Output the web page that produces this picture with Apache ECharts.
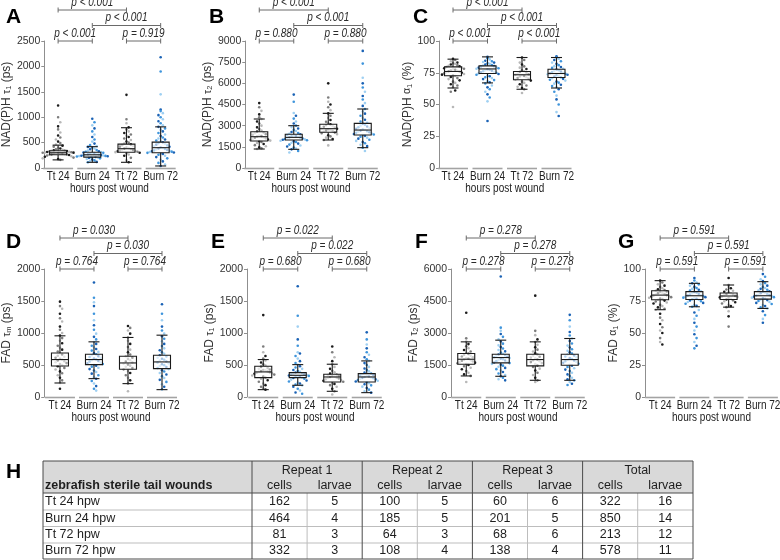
<!DOCTYPE html>
<html><head><meta charset="utf-8">
<script src="https://cdn.jsdelivr.net/npm/echarts@6/dist/echarts.min.js"></script>
<style>html,body{margin:0;padding:0;background:#fff}#c{width:780px;height:560px}</style>
</head><body><div id="c"></div><script>
// ---------------- DATA ----------------
const categories = ['Tt 24', 'Burn 24', 'Tt 72', 'Burn 72'];
const xAxisName = 'hours post wound';

// Panel A: NAD(P)H tau1 (ps)
const a_tt24 = [1230,1000,900,820,760,700,640,600,560,520,490,460,440,420,400,385,370,360,350,345,338,332,326,320,315,310,306,302,300,298,295,292,288,284,280,276,272,268,262,255,245,232,220,205,190,175,160];
const a_burn24 = [970,900,840,780,720,660,610,560,520,480,450,430,415,400,385,370,355,342,330,320,312,305,298,292,286,280,274,268,263,258,254,250,246,242,238,234,230,226,222,218,214,208,200,190,178,165,150,135,120,112];
const a_tt72 = [1440,960,880,800,760,720,690,660,640,610,580,550,520,500,480,465,450,435,420,405,392,382,372,362,352,344,336,328,320,312,300,285,265,240,200,150,112];
const a_burn72 = [2180,1900,1450,1150,1120,1080,1040,1000,960,920,880,840,810,780,750,720,690,660,630,600,580,560,540,520,505,490,475,460,445,430,418,406,395,384,374,364,355,346,338,330,322,314,306,298,288,275,260,240,215,190,160,130,100,70,40];
const boxA = [[160,260,300,340,450],[112,215,260,310,420],[112,310,380,470,793],[40,300,400,510,810]];
const pA = ['p < 0.001','p = 0.919','p < 0.001','p < 0.001'];

// Panel B: NAD(P)H tau2 (ps)
const b_tt24 = [4600,4300,4050,3800,3600,3470,3300,3150,3000,2880,2760,2650,2580,2520,2460,2400,2350,2300,2260,2220,2180,2140,2100,2060,2020,1980,1940,1900,1850,1780,1700,1620,1540,1460,1400,1350];
const b_burn24 = [5200,4700,3900,3700,3500,3300,3150,3000,2900,2800,2700,2620,2550,2480,2420,2380,2340,2300,2270,2240,2210,2180,2150,2120,2090,2060,2030,2000,1970,1930,1890,1840,1790,1730,1660,1590,1520,1450,1380,1320,1200,1100];
const b_tt72 = [6000,5000,4700,4500,4300,4100,3870,3700,3550,3400,3280,3180,3100,3040,2980,2920,2870,2820,2780,2740,2700,2660,2620,2580,2530,2470,2400,2320,2240,2150,2060,1980,1600];
const b_burn72 = [8300,7400,6400,6000,5700,5400,5100,4850,4600,4400,4180,4000,3850,3700,3550,3420,3300,3200,3130,3060,3000,2940,2880,2830,2780,2730,2690,2650,2610,2570,2530,2490,2450,2410,2370,2330,2280,2220,2150,2080,2000,1920,1840,1750,1650,1550,1440,1200];
const boxB = [[1346,1913,2218,2573,3472],[1323,1984,2170,2388,2998],[1984,2530,2786,3097,3874],[1440,2338,2690,3165,4181]];
const pB = ['p = 0.880','p = 0.880','p < 0.001','p < 0.001'];

// Panel C: NAD(P)H alpha1 (%)
const c_tt24 = [86,85,84,83,82.5,82,81.5,81,80.5,80,79.5,79,78.6,78.2,77.8,77.4,77,76.6,76.2,75.8,75.4,75,74.5,74,73.5,73,72.4,71.6,70.8,70,69,68,67,66,65,63.5,61,60,48];
const c_burn24 = [87.5,86.5,85.5,84.5,84,83.5,83,82.5,82,81.5,81,80.6,80.2,79.8,79.4,79,78.6,78.2,77.8,77.4,77,76.6,76.2,75.8,75.4,75,74.5,74,73.4,72.8,72.2,71.5,70.8,70,69.2,68.4,67.5,66.5,65,63.5,62,60,58,55.5,52.5,37];
const c_tt72 = [87,85,83,81.5,80,79,78,77,76.2,75.6,75,74.4,73.8,73.4,73,72.5,72,71.4,70.8,70.2,69.6,68.8,68,67,66,65,64,63,62,59];
const c_burn72 = [88,87,86,85,84,83,82,81,80.2,79.5,78.8,78.2,77.6,77,76.5,76,75.5,75,74.6,74.2,73.8,73.4,73,72.5,72,71.4,70.8,70.2,69.5,68.8,68,67.2,66.4,65.5,64.5,63.5,62,60,57,54,50,44,41];
const boxC = [[63,72.6,76,79.6,85.7],[67,74.4,78,80.4,87.5],[62,69.5,73.4,76,87],[63,71.3,74.4,77.8,87]];
const pC = ['p < 0.001','p < 0.001','p < 0.001','p < 0.001'];

// Panel D: FAD tau m (ps)
const d_tt24 = [1490,1420,1380,1300,1230,1180,1100,1050,1000,960,920,880,840,800,770,740,710,685,665,645,628,612,598,585,572,558,544,530,514,498,480,455,430,400,370,340,300,260,220,130];
const d_burn24 = [1790,1550,1480,1420,1300,1200,1120,1050,990,940,900,860,830,800,775,750,725,705,685,668,652,638,625,612,600,588,576,564,552,540,528,516,504,490,474,456,436,414,390,365,340,310,285,250,210,170,130,100];
const d_tt72 = [1110,1080,1040,990,930,880,830,780,740,700,665,636,615,595,575,555,538,522,506,490,472,452,432,405,375,340,300,260,210,90];
const d_burn72 = [1450,1300,1200,1100,1040,990,950,910,870,830,795,760,730,700,675,652,632,614,598,583,568,554,540,526,512,498,484,468,452,436,418,398,376,352,326,298,268,236,200,160,120];
const boxD = [[219,484,585,688,956],[287,506,585,667,862],[209,433,532,636,930],[115,444,548,653,966]];
const pD = ['p = 0.764','p = 0.764','p = 0.030','p = 0.030'];

// Panel E: FAD tau1 (ps)
const e_tt24 = [1280,790,700,640,600,570,540,510,490,470,455,440,430,420,412,405,398,392,386,380,372,362,350,336,320,305,285,262,238,212,185,160,135,115];
const e_burn24 = [1730,1270,1100,900,800,700,680,640,600,560,530,505,480,460,440,422,405,392,381,372,364,356,349,342,336,330,324,318,312,305,296,285,272,258,242,226,210,195,182,160,130,100,70,50];
const e_tt72 = [790,700,620,560,512,470,440,410,385,365,352,342,333,325,318,312,305,297,288,278,266,252,238,222,205,185,160,130,90,40];
const e_burn72 = [1010,900,820,760,700,660,620,590,564,530,500,470,445,420,400,382,366,355,345,336,328,320,313,306,299,292,284,275,265,254,242,230,216,200,182,162,140,115,90,68];
const boxE = [[115,303,392,480,585],[183,303,339,381,506],[89,235,313,355,512],[68,235,313,366,564]];
const pE = ['p = 0.680','p = 0.680','p = 0.022','p = 0.022'];

// Panel F: FAD tau2 (ps)
const f_tt24 = [3950,2750,2600,2480,2380,2290,2200,2130,2070,2020,1980,1940,1900,1860,1820,1790,1760,1730,1700,1670,1640,1610,1580,1545,1500,1440,1370,1300,1220,1140,1060,990,700];
const f_burn24 = [5650,3250,3100,2950,2820,2700,2600,2500,2420,2340,2270,2200,2140,2080,2030,1990,1955,1920,1890,1860,1830,1800,1770,1740,1710,1680,1650,1620,1590,1555,1515,1470,1420,1365,1305,1240,1170,1100,1030,970,900,830,780];
const f_tt72 = [4750,3100,2900,2700,2580,2450,2330,2220,2130,2050,1990,1940,1890,1845,1800,1760,1720,1680,1635,1590,1540,1480,1410,1330,1240,1140,1030,900,780,700];
const f_burn72 = [3850,3600,3300,3050,2880,2740,2620,2510,2410,2320,2240,2170,2100,2040,1990,1945,1900,1860,1820,1780,1745,1710,1675,1640,1600,1560,1515,1465,1410,1350,1285,1215,1140,1060,980,900,830,780,700,620,560];
const boxF = [[987,1535,1770,2037,2585],[971,1598,1849,2006,2664],[783,1457,1755,2006,2585],[783,1488,1755,2006,2742]];
const pF = ['p = 0.278','p = 0.278','p = 0.278','p = 0.278'];

// Panel G: FAD alpha1 (%)
const g_tt24 = [91,89.5,88,87,86,85,84.2,83.5,83,82.5,82,81.5,81,80.5,80,79.6,79.2,78.8,78.4,78,77.5,77,76.5,76,75.3,74.6,73.8,73,72,71,70,69,68.2,65,62,60,57,54.5,52,50,46,43,41];
const g_burn24 = [93,91,89.5,88.8,88,87,86,85.2,84.5,83.8,83.2,82.6,82,81.5,81,80.5,80,79.6,79.2,78.8,78.4,78,77.6,77.2,76.8,76.4,76,75.4,74.8,74.2,73.5,72.8,72,71.2,70.5,68,66,63.5,61,58,55,52,49,46,43,40,38];
const g_tt72 = [93,87.5,86,85,84,83,82.2,81.6,81,80.5,80,79.5,79,78.6,78.2,77.8,77.3,76.8,76.2,75.5,74.8,74,73,72,71,70.2,67,63,55];
const g_burn72 = [96,94,92,90.5,89,88,87,86,85.2,84.5,83.8,83.2,82.6,82,81.5,81,80.5,80,79.6,79.2,78.8,78.4,78,77.6,77.2,76.8,76.3,75.7,75,74.3,73.5,72.7,71.8,71,70,69.2,67,64,61,58];
const boxG = [[68.2,76,79.6,83,90.9],[70.5,76.2,79.1,82.3,88.8],[70.2,76.2,78.9,81.2,87.5],[69.2,76.5,79.1,82.3,90.1]];
const pG = ['p = 0.591','p = 0.591','p = 0.591','p = 0.591'];

// Table H
const tableTitle = 'zebrafish sterile tail wounds';
const tableGroups = ['Repeat 1','Repeat 2','Repeat 3','Total'];
const tableSubHeads = ['cells','larvae'];
const tableRowLabels = ['Tt 24 hpw','Burn 24 hpw','Tt 72 hpw','Burn 72 hpw'];
const rep1Cells = [162,464,81,332];
const rep1Larvae = [5,4,3,3];
const rep2Cells = [100,185,64,108];
const rep2Larvae = [5,5,3,4];
const rep3Cells = [60,201,68,138];
const rep3Larvae = [6,5,6,4];
const totalCells = [322,850,213,578];
const totalLarvae = [16,14,12,11];

// ---------------- STYLE / LAYOUT ----------------
const SANS = "'Liberation Sans',Arial,Helvetica,sans-serif";
const NARROW_SCALE = 0.8;
const TT_COLORS = ['#1c1c1c', '#7d7d7d', '#b8b8b8'];
const BURN_COLORS = ['#1a62b5', '#3f95dc', '#9fd0f2'];
const BOX_W = 17, CAP_W = 11, SEG_W = 30;
const BIN_PX = 6, DOT_STEP = 2.2, DOT_R = 1.3, ROW_MAX = 15;

function yName(prefix, greek, sub, unit) {
  return prefix + ' {g|' + greek + '}{s|' + sub + '} ' + unit;
}

const panels = [
  {letter:'A', lx:1, ly:2, left:39.75, top:41, height:127, max:2500, interval:500, gap:28, offset:-3.25,
   name: yName('NAD(P)H','τ','1','(ps)'), groups:[a_tt24,a_burn24,a_tt72,a_burn72], box:boxA, p:pA},
  {letter:'B', lx:204, ly:2, left:242, top:41, height:127, max:9000, interval:1500, gap:28, offset:-3.25,
   name: yName('NAD(P)H','τ','2','(ps)'), groups:[b_tt24,b_burn24,b_tt72,b_burn72], box:boxB, p:pB},
  {letter:'C', lx:408, ly:2, left:435.75, top:41, height:127, max:100, interval:25, gap:19.5, offset:-3.25,
   name: yName('NAD(P)H','α','1','(%)'), groups:[c_tt24,c_burn24,c_tt72,c_burn72], box:boxC, p:pC},
  {letter:'D', lx:1, ly:227, left:41, top:269, height:128, max:2000, interval:500, gap:27, offset:-1.3,
   name: yName('FAD','τ','m','(ps)'), groups:[d_tt24,d_burn24,d_tt72,d_burn72], box:boxD, p:pD},
  {letter:'E', lx:206, ly:227, left:246, top:269, height:128, max:2000, interval:500, gap:27.5, offset:-1,
   name: yName('FAD','τ','1','(ps)'), groups:[e_tt24,e_burn24,e_tt72,e_burn72], box:boxE, p:pE},
  {letter:'F', lx:410, ly:227, left:449, top:269, height:128, max:6000, interval:1500, gap:27.5, offset:-2,
   name: yName('FAD','τ','2','(ps)'), groups:[f_tt24,f_burn24,f_tt72,f_burn72], box:boxF, p:pF},
  {letter:'G', lx:613, ly:227, left:643, top:269, height:128, max:100, interval:25, gap:18.5, offset:-2,
   name: yName('FAD','α','1','(%)'), groups:[g_tt24,g_burn24,g_tt72,g_burn72], box:boxG, p:pG}
];
const PANEL_W = 138;
const BRACKET_PAIRS = [[0,1,0],[2,3,0],[1,3,1],[0,2,2]]; // [from, to, row]
const BRACKET_ROW_PX = 15.5;

// beeswarm layout of values (horizontal spread computed from value density)
function swarm(values, cat, max, h) {
  const unit = max * BIN_PX / h;
  const counts = {};
  return values.map((v, i) => {
    const b = Math.round(v / unit);
    const k = counts[b] = (counts[b] || 0) + 1;
    const k0 = (k - 1) % ROW_MAX;
    const wrap = Math.floor((k - 1) / ROW_MAX) % 2 ? DOT_STEP / 2 : 0;
    const off = (k0 === 0 ? 0 : (k0 % 2 ? 1 : -1) * Math.ceil(k0 / 2) * DOT_STEP) + wrap;
    return [cat, v, off, i % 3];
  });
}

function renderPoint(params, api) {
  const cat = api.value(0);
  const c = api.coord([cat, api.value(1)]);
  const pal = cat % 2 === 0 ? TT_COLORS : BURN_COLORS;
  return {type:'circle', shape:{cx:c[0] + api.value(2), cy:c[1], r:DOT_R}, style:{fill:pal[api.value(3)]}};
}

function renderBox(params, api) {
  const x = api.value(0);
  const pMin = api.coord([x, api.value(1)]), pQ1 = api.coord([x, api.value(2)]),
        pMed = api.coord([x, api.value(3)]), pQ3 = api.coord([x, api.value(4)]),
        pMax = api.coord([x, api.value(5)]);
  const cx = pMed[0], hw = BOX_W / 2, cw = CAP_W / 2;
  const ls = {stroke:'#1a1a1a', lineWidth:1.1, fill:null};
  return {type:'group', children:[
    {type:'line', shape:{x1:cx, y1:pMax[1], x2:cx, y2:pQ3[1]}, style:ls},
    {type:'line', shape:{x1:cx, y1:pQ1[1], x2:cx, y2:pMin[1]}, style:ls},
    {type:'line', shape:{x1:cx - cw, y1:pMax[1], x2:cx + cw, y2:pMax[1]}, style:ls},
    {type:'line', shape:{x1:cx - cw, y1:pMin[1], x2:cx + cw, y2:pMin[1]}, style:ls},
    {type:'rect', shape:{x:cx - hw, y:pQ3[1], width:2 * hw, height:pQ1[1] - pQ3[1]},
     style:{fill:'rgba(255,255,255,0.6)', stroke:'#1a1a1a', lineWidth:1.1}},
    {type:'line', shape:{x1:cx - hw, y1:pMed[1], x2:cx + hw, y2:pMed[1]}, style:ls}
  ]};
}

function narrowText(t, x, y, size, extra) {
  return Object.assign({type:'text', x:x, y:y, scaleX:NARROW_SCALE,
    style:Object.assign({text:t, fill:'#222', fontSize:size, fontFamily:SANS, align:'center', verticalAlign:'middle'}, extra || {})});
}

// category axis: short gray segments + narrow labels + axis name
function renderSeg(params, api) {
  const p = api.coord([api.value(0), 0]);
  const ch = [
    {type:'line', shape:{x1:p[0] - SEG_W / 2, y1:p[1] + 0.5, x2:p[0] + SEG_W / 2, y2:p[1] + 0.5},
     style:{stroke:'#a3a3a3', lineWidth:1.6}},
    narrowText(categories[params.dataIndex], p[0], p[1] + 8.3, 12.5)
  ];
  if (params.dataIndex === 0) {
    const cs = params.coordSys;
    ch.push(narrowText(xAxisName, cs.x + cs.width / 2, p[1] + 20.3, 12.5));
  }
  return {type:'group', children:ch};
}

function makeBracketRenderer(pTexts) {
  return function (params, api) {
    const a = api.coord([api.value(0), 0]), b = api.coord([api.value(1), 0]);
    const y = params.coordSys.y - api.value(2) * BRACKET_ROW_PX;
    const st = {stroke:'#6a6a6a', lineWidth:1};
    return {type:'group', children:[
      {type:'line', shape:{x1:a[0], y1:y, x2:b[0], y2:y}, style:st},
      {type:'line', shape:{x1:a[0], y1:y - 2.5, x2:a[0], y2:y + 2.5}, style:st},
      {type:'line', shape:{x1:b[0], y1:y - 2.5, x2:b[0], y2:y + 2.5}, style:st},
      narrowText(pTexts[params.dataIndex], (a[0] + b[0]) / 2, y - 1.2, 12.5,
        {fontStyle:'italic', verticalAlign:'bottom', fill:'#2a2a2a'})
    ]};
  };
}

const grids = [], xAxes = [], yAxes = [], series = [], titles = [];
panels.forEach((pn, gi) => {
  grids.push({left:pn.left, top:pn.top, width:PANEL_W, height:pn.height});
  xAxes.push({type:'category', gridIndex:gi, data:categories, boundaryGap:true,
    axisLine:{show:false}, axisTick:{show:false}, axisLabel:{show:false}});
  yAxes.push({type:'value', gridIndex:gi, min:0, max:pn.max, interval:pn.interval, offset:pn.offset,
    axisLine:{show:true, lineStyle:{color:'#8f8f8f', width:1}},
    axisTick:{show:true, length:3, lineStyle:{color:'#8f8f8f'}},
    splitLine:{show:false},
    axisLabel:{color:'#333', fontSize:10.5, fontFamily:SANS, margin:4, formatter:v => String(v)},
    name:pn.name, nameLocation:'middle', nameGap:pn.gap,
    nameTextStyle:{color:'#333', fontSize:12, fontFamily:SANS,
      rich:{g:{fontSize:10.5, fontFamily:SANS, color:'#333'}, s:{fontSize:7.5, fontFamily:SANS, color:'#333', padding:[4,0,0,0]}}}});
  let pts = [];
  pn.groups.forEach((vals, ci) => { pts = pts.concat(swarm(vals, ci, pn.max, pn.height)); });
  series.push({type:'custom', xAxisIndex:gi, yAxisIndex:gi, data:pts, renderItem:renderPoint, silent:true, z:2, animation:false});
  series.push({type:'custom', xAxisIndex:gi, yAxisIndex:gi,
    data:pn.box.map((b, ci) => [ci].concat(b)), renderItem:renderBox, silent:true, z:3, animation:false});
  series.push({type:'custom', xAxisIndex:gi, yAxisIndex:gi, clip:false,
    data:categories.map((c, ci) => [ci]), renderItem:renderSeg, silent:true, z:3, animation:false});
  series.push({type:'custom', xAxisIndex:gi, yAxisIndex:gi, clip:false,
    data:BRACKET_PAIRS.map(bp => bp.slice()), renderItem:makeBracketRenderer(pn.p), silent:true, z:4, animation:false});
  titles.push({text:pn.letter, left:pn.lx, top:pn.ly,
    textStyle:{fontSize:21, fontWeight:'bold', fontFamily:SANS, color:'#000'}});
});
titles.push({text:'H', left:1, top:457, textStyle:{fontSize:21, fontWeight:'bold', fontFamily:SANS, color:'#000'}});

// ---- table grid (value axes in table-local units) ----
const TBL_W = 650, TBL_H = 98;
const COL_FIRST = 209, GROUP_W = 110.2;
const ROW_EDGES = [0, 32, 49, 65.5, 82, 98];
const tgi = grids.length;
grids.push({left:43, top:461, width:TBL_W, height:TBL_H});
xAxes.push({type:'value', gridIndex:tgi, min:0, max:TBL_W, show:false});
yAxes.push({type:'value', gridIndex:tgi, min:0, max:TBL_H, inverse:true, show:false});
const tableCols = [[rep1Cells, rep1Larvae],[rep2Cells, rep2Larvae],[rep3Cells, rep3Larvae],[totalCells, totalLarvae]];

function renderTable(params, api) {
  const X = v => api.coord([v, 0])[0];
  const Y = v => api.coord([0, v])[1];
  const dark = {stroke:'#4a4a4a', lineWidth:1};
  const light = {stroke:'#bdbdbd', lineWidth:1};
  const ch = [];
  const txt = (t, x, y, align, bold) => ({type:'text', x:x, y:y,
    style:{text:String(t), fill:'#1e1e1e', fontSize:12.5, fontFamily:SANS, fontWeight:bold ? 'bold' : 'normal',
           align:align, verticalAlign:'middle'}});
  ch.push({type:'rect', shape:{x:X(0), y:Y(0), width:X(TBL_W) - X(0), height:Y(ROW_EDGES[1]) - Y(0)}, style:{fill:'#d9d9d9'}});
  for (let r = 2; r < ROW_EDGES.length - 1; r++) {
    ch.push({type:'line', shape:{x1:X(0), y1:Y(ROW_EDGES[r]), x2:X(TBL_W), y2:Y(ROW_EDGES[r])}, style:light});
  }
  tableGroups.forEach((g, gi2) => {
    const gx = COL_FIRST + gi2 * GROUP_W;
    ch.push({type:'line', shape:{x1:X(gx + GROUP_W / 2), y1:Y(ROW_EDGES[1]), x2:X(gx + GROUP_W / 2), y2:Y(TBL_H)}, style:light});
  });
  ch.push({type:'line', shape:{x1:X(0), y1:Y(ROW_EDGES[1]), x2:X(TBL_W), y2:Y(ROW_EDGES[1])}, style:dark});
  tableGroups.forEach((g, gi2) => {
    const gx = COL_FIRST + gi2 * GROUP_W;
    ch.push({type:'line', shape:{x1:X(gx), y1:Y(0), x2:X(gx), y2:Y(TBL_H)}, style:dark});
  });
  ch.push({type:'rect', shape:{x:X(0), y:Y(0), width:X(TBL_W) - X(0), height:Y(TBL_H) - Y(0)}, style:{fill:null, stroke:'#4a4a4a', lineWidth:1}});
  ch.push(txt(tableTitle, X(2), Y(25), 'left', true));
  tableGroups.forEach((g, gi2) => {
    const gx = COL_FIRST + gi2 * GROUP_W;
    ch.push(txt(g, X(gx + GROUP_W / 2), Y(9.5), 'center'));
    tableSubHeads.forEach((s, si) => ch.push(txt(s, X(gx + GROUP_W / 4 + si * GROUP_W / 2), Y(25), 'center')));
  });
  tableRowLabels.forEach((lab, ri) => {
    const ym = Y((ROW_EDGES[ri + 1] + ROW_EDGES[ri + 2]) / 2);
    ch.push(txt(lab, X(2), ym, 'left'));
    tableCols.forEach((pair, gi2) => {
      const gx = COL_FIRST + gi2 * GROUP_W;
      pair.forEach((arr, si) => ch.push(txt(arr[ri], X(gx + GROUP_W / 4 + si * GROUP_W / 2), ym, 'center')));
    });
  });
  return {type:'group', children:ch};
}
series.push({type:'custom', xAxisIndex:tgi, yAxisIndex:tgi, data:[[0, 0]], renderItem:renderTable, clip:false, silent:true, animation:false});

const chart = echarts.init(document.getElementById('c'), null, {renderer:'canvas'});
chart.setOption({
  backgroundColor:'#ffffff',
  animation:false,
  title:titles,
  grid:grids,
  xAxis:xAxes,
  yAxis:yAxes,
  series:series
});
</script></body></html>
